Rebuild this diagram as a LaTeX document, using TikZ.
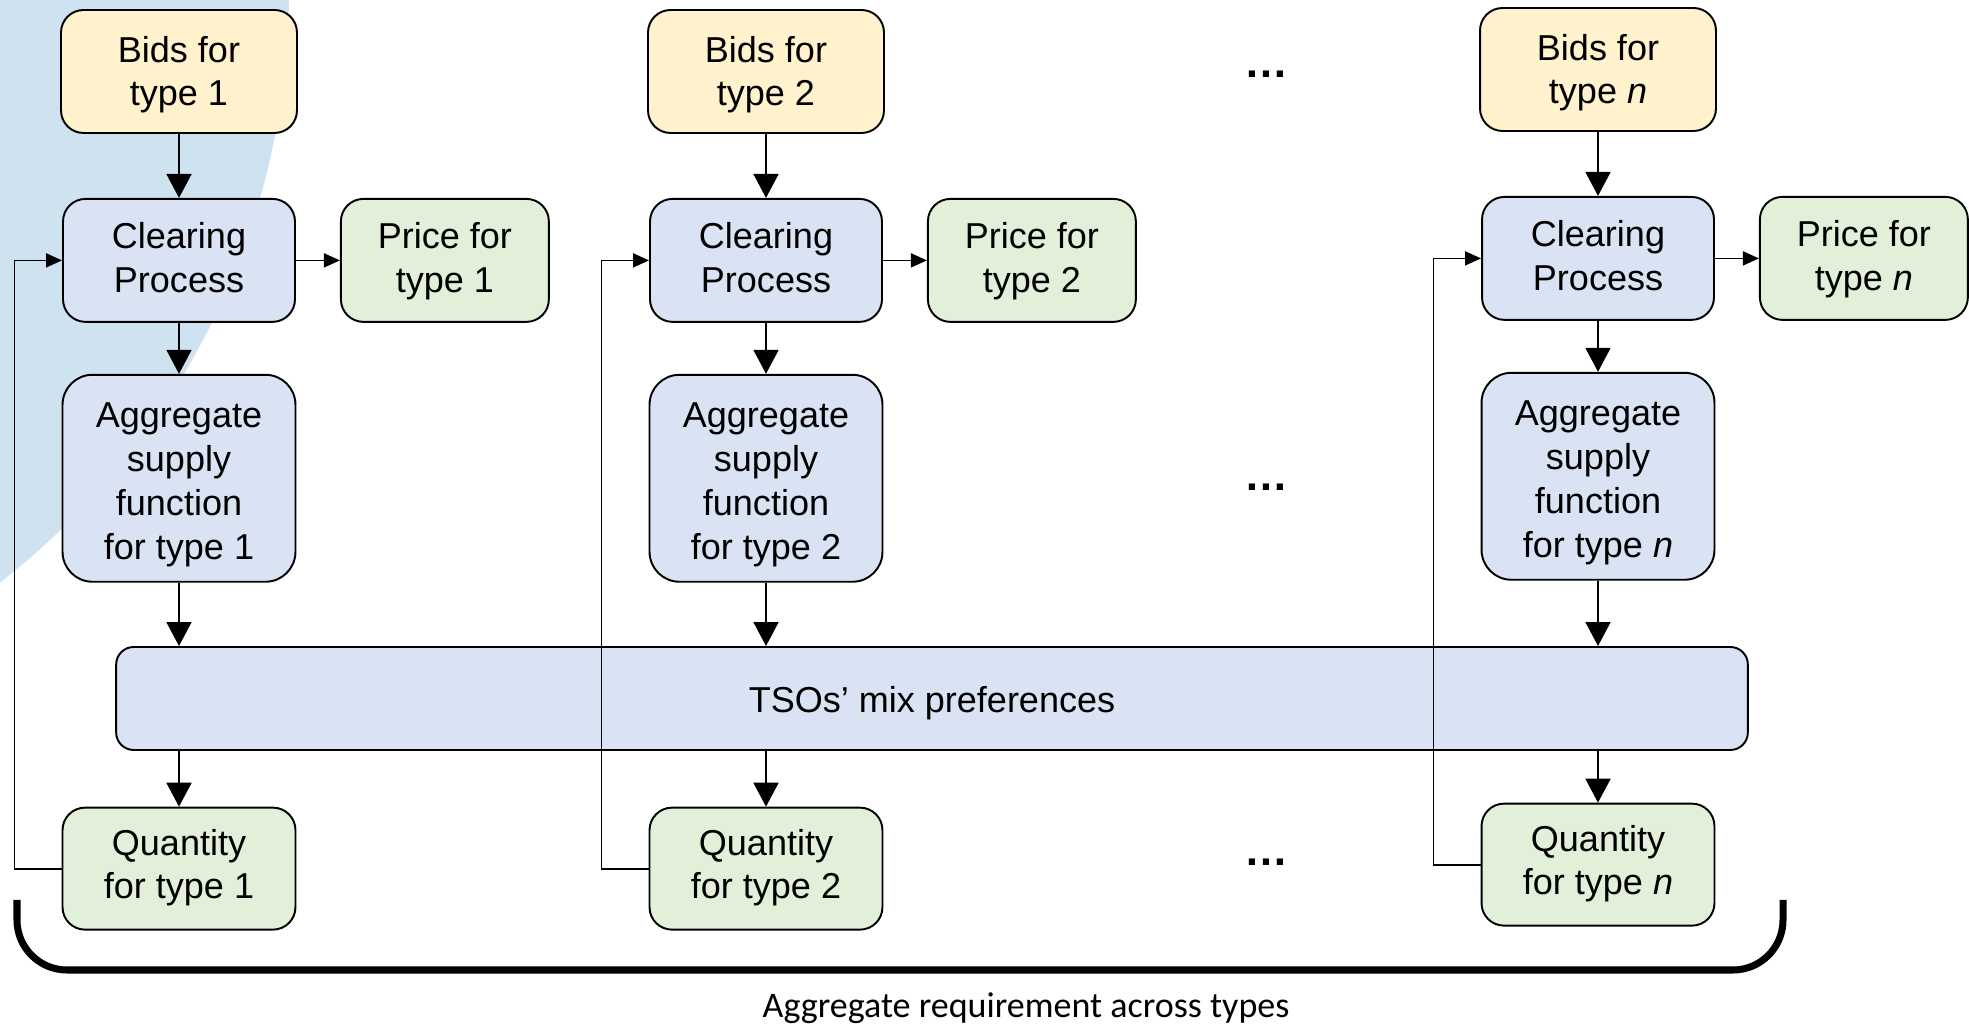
\documentclass[tikz,border=0pt]{standalone}
\usepackage{fontspec}
\setmainfont{Liberation Sans}
\newfontfamily\notefont{Carlito}
\usetikzlibrary{arrows.meta, positioning}

\definecolor{bidyellow}{HTML}{FFF2CC}
\definecolor{procblue}{HTML}{DAE3F3}
\definecolor{outgreen}{HTML}{E2F0D9}
\definecolor{backblue}{HTML}{CFE2F0}

\begin{document}
\begin{tikzpicture}[>=Triangle, x=0.02cm, y=0.02cm, font=\fontsize{20.5}{24.6}\selectfont]

        % Styles
        \tikzstyle{box} = [draw, line width=1.1pt, rounded corners=0.45cm, align=center, minimum width=4.66cm, minimum height=2.46cm, inner sep=2pt,
                           execute at begin node={\rule{0pt}{21pt}}, execute at end node={\rule[-5pt]{0pt}{5pt}}]
        \tikzstyle{bidbox} = [box, fill=bidyellow, minimum width=4.72cm, execute at begin node={\rule{0pt}{43.6pt}}]
        \tikzstyle{procbox} = [box, fill=procblue, minimum width=4.64cm, execute at begin node={\rule{0pt}{41pt}}]
        \tikzstyle{aggbox} = [box, fill=procblue, minimum height=4.14cm, rounded corners=0.6cm,
                              execute at begin node={\rule{0pt}{97pt}}, font=\fontsize{20.5}{25}\selectfont]
        \tikzstyle{outbox} = [box, fill=outgreen, minimum width=4.16cm, execute at begin node={\rule{0pt}{41pt}}]
        \tikzstyle{qtybox} = [box, fill=outgreen, minimum height=2.44cm, execute at begin node={\rule{0pt}{39pt}}]
        \tikzstyle{bigarrow} = [-{Triangle[length=0.48cm, width=0.5cm]}, line width=1pt]
        \tikzstyle{smallarrow} = [-{Triangle[length=0.32cm, width=0.28cm]}, line width=1pt]
        \tikzstyle{dots} = [font=\fontsize{25}{30}\selectfont\bfseries, anchor=base, inner sep=0pt]

        % Page and background
        \useasboundingbox (0,0) rectangle (1969,1028);
        \begin{scope}
          \clip (0,0) rectangle (1969,1028);
          \fill[backblue] (-461,1037) circle (750);
        \end{scope}

        % Type 1
        \node[bidbox] (bid1) at (179,956.5) {Bids for\\type 1};
        \node[procbox, below=1.28cm of bid1] (clr1) {Clearing\\Process};
        \node[outbox, right=0.88cm of clr1] (price1) {Price for\\type 1};
        \node[aggbox, below=1.02cm of clr1] (agg1) {Aggregate\\supply\\function\\for type 1};

        % Type 2
        \node[bidbox] (bid2) at (766,956.5) {Bids for\\type 2};
        \node[procbox, below=1.28cm of bid2] (clr2) {Clearing\\Process};
        \node[outbox, right=0.88cm of clr2] (price2) {Price for\\type 2};
        \node[aggbox, below=1.02cm of clr2] (agg2) {Aggregate\\supply\\function\\for type 2};

        % Type n
        \node[bidbox] (bidn) at (1598,958.5) {Bids for\\type \textit{n}};
        \node[procbox, below=1.28cm of bidn] (clrn) {Clearing\\Process};
        \node[outbox, right=0.88cm of clrn] (pricen) {Price for\\type \textit{n}};
        \node[aggbox, below=1.02cm of clrn] (aggn) {Aggregate\\supply\\function\\for type \textit{n}};

        % TSO preferences
        \node[box, fill=procblue, minimum width=32.64cm, minimum height=2.06cm, rounded corners=0.35cm] (tso) at (932,329.5) {TSOs’ mix preferences};

        % Quantities
        \node[qtybox, below=4.48cm of agg1] (qty1) {Quantity\\for type 1};
        \node[qtybox, below=4.48cm of agg2] (qty2) {Quantity\\for type 2};
        \node[qtybox, below=4.44cm of aggn] (qtyn) {Quantity\\for type \textit{n}};

        % Dots between columns
        \node[dots] (dotbid) at (1266,950) {…};
        \node[dots] (dotagg) at (1266,537) {…};
        \node[dots] (dotqty) at (1266,162) {…};

        % Arrows down each column
        \draw[bigarrow] (bid1) -- (clr1);
        \draw[bigarrow] (clr1) -- (agg1);
        \draw[smallarrow] (clr1) -- (price1);
        \draw[bigarrow] (agg1) -- (agg1 |- tso.north);
        \draw[bigarrow] (tso.south -| qty1) -- (qty1);

        \draw[bigarrow] (bid2) -- (clr2);
        \draw[bigarrow] (clr2) -- (agg2);
        \draw[smallarrow] (clr2) -- (price2);
        \draw[bigarrow] (agg2) -- (agg2 |- tso.north);
        \draw[bigarrow] (tso.south -| qty2) -- (qty2);

        \draw[bigarrow] (bidn) -- (clrn);
        \draw[bigarrow] (clrn) -- (aggn);
        \draw[smallarrow] (clrn) -- (pricen);
        \draw[bigarrow] (aggn) -- (aggn |- tso.north);
        \draw[bigarrow] (tso.south -| qtyn) -- (qtyn);

        % Feedback from quantity to clearing
        \draw[smallarrow] (qty1.west) -- ++(-47,0) |- (clr1.west);
        \draw[smallarrow] (qty2.west) -- ++(-47,0) |- (clr2.west);
        \draw[smallarrow] (qtyn.west) -- ++(-47,0) |- (clrn.west);

        % Bracket under the quantities
        \draw[line width=4pt, rounded corners=1cm] (17,128) -- (17,58) -- (1783,58) -- (1783,128);
        \node[font=\notefont\fontsize{20.5}{24.6}\selectfont, anchor=base] (aggnote) at (1026,10) {Aggregate requirement across types};

\end{tikzpicture}
\end{document}
